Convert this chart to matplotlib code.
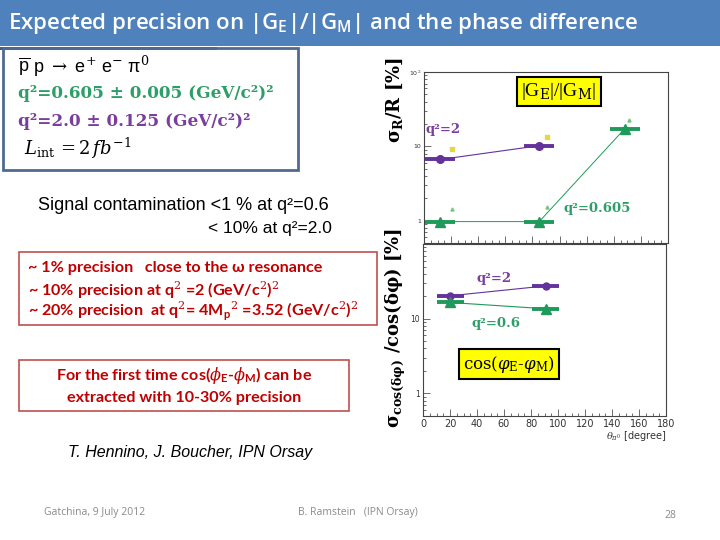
import matplotlib
matplotlib.use("Agg")
import matplotlib.pyplot as plt
from matplotlib.patches import Rectangle
from matplotlib.ticker import LogLocator, NullFormatter, FixedLocator, MultipleLocator
import numpy as np

# ---------------- data ----------------
theta_top = [12, 85, 148]
ratio_q2_2 = [6.65, 10.2]          # sigma_R/R [%], q2=2, at theta_top[:2]
ratio_q2_0605 = [0.97, 0.97, 17.2]  # sigma_R/R [%], q2=0.605
theta_top_err = [11, 11, 11]
ref_yellow_theta = [21, 91]
ref_yellow_val = [9.3, 13.4]
ref_green_theta = [21, 91, 151]
ref_green_val = [1.44, 1.53, 22.6]

theta_bot = [20, 91]
cos_q2_2 = [20.3, 27.5]            # sigma_cos/cos [%], q2=2
cos_q2_06 = [16.5, 13.6]           # q2=0.6
theta_bot_err = [10, 10]

x_ticks = [0, 20, 40, 60, 80, 100, 120, 140, 160, 180]

W, H = 720, 540
PURPLE = "#64329a"
GREEN = "#1e9a5a"
TXT_GREEN = "#2e9e68"
TXT_PURPLE = "#7a3e9d"
RED = "#c00000"

plt.rcParams["mathtext.fontset"] = "dejavuserif"

fig = plt.figure(figsize=(7.2, 5.4), dpi=100)
fig.patch.set_facecolor("white")


def P(x, y):
    return (x / W, 1 - y / H)


def rect(x0, y0, x1, y1, **kw):
    r = Rectangle(P(x0, y1), (x1 - x0) / W, (y1 - y0) / H, transform=fig.transFigure, **kw)
    fig.add_artist(r)


def text(x, y, s, **kw):
    fig.text(*P(x, y), s, **kw)


# ---------------- slide decorations ----------------
rect(0, 0, 720, 46, facecolor="#4f81bd", edgecolor="none")
rect(0, 47.5, 217, 50, facecolor="#3f5f86", edgecolor="none")
text(8, 23, r"Expected precision on |G$_{\mathregular{E}}$|/|G$_{\mathregular{M}}$| and the phase difference",
     color="white", fontsize=16, family="Open Sans", fontweight="semibold", va="center", ha="left")

# left info box
rect(3, 48, 298, 170, facecolor="none", edgecolor="#4f6a8f", linewidth=2)
text(18, 66, r"$\overline{\mathregular{p}}$ p $\rightarrow$ e$^{+}$ e$^{-}$ $\mathregular{\pi}^{0}$",
     fontsize=13, family="Liberation Sans", va="center", color="black")
text(18, 93, "q²=0.605 ± 0.005 (GeV/c²)²", fontsize=12.2, family="DejaVu Serif",
     fontweight="bold", color=TXT_GREEN, va="center")
text(18, 121, "q²=2.0 ± 0.125 (GeV/c²)²", fontsize=12.2, family="DejaVu Serif",
     fontweight="bold", color=TXT_PURPLE, va="center")
text(24, 148, r"$L_{\mathrm{int}}\,=2\,fb^{-1}$", fontsize=13, va="center", color="black")

# signal contamination
text(38, 206, "Signal contamination <1 % at q²=0.6", fontsize=13, family="Liberation Sans", va="center")
text(208, 228, "< 10% at q²=2.0", fontsize=12.5, family="Liberation Sans", va="center")

# red boxes
rect(19, 252, 377, 325, facecolor="none", edgecolor="#c0504d", linewidth=1.2)
rkw = dict(fontsize=11.6, family="Lato", fontweight="bold", color=RED, va="center")
text(28, 268, "~ 1% precision   close to the ω resonance", **rkw)
text(28, 290, r"~ 10% precision at q$^{2}$ =2 (GeV/c$^{2}$)$^{2}$", **rkw)
text(28, 311, r"~ 20% precision  at q$^{2}$= 4M$_{\mathregular{p}}$$^{2}$ =3.52 (GeV/c$^{2}$)$^{2}$", **rkw)

rect(19, 360, 349, 411, facecolor="none", edgecolor="#c0504d", linewidth=1.2)
text(184, 376, r"For the first time cos($\phi_{\mathregular{E}}$-$\phi_{\mathregular{M}}$) can be",
     ha="center", **rkw)
text(184, 398, "extracted with 10-30% precision", ha="center", **rkw)

text(190, 453, "T. Hennino, J. Boucher, IPN Orsay", fontsize=11.5, family="Liberation Sans",
     style="italic", ha="center", va="center")
fkw = dict(fontsize=7.5, family="Open Sans", color="#8a8a8a", va="center")
text(44, 512, "Gatchina, 9 July 2012", **fkw)
text(298, 512, "B. Ramstein   (IPN Orsay)", **fkw)
text(664, 515, "28", **fkw)

# ---------------- axes ----------------
axT = fig.add_axes([424 / W, 1 - 243 / H, (668 - 424) / W, (243 - 72) / H])
axB = fig.add_axes([423 / W, 1 - 416 / H, (666 - 423) / W, (416 - 244) / H])

for ax in (axT, axB):
    ax.set_yscale("log")
    ax.set_ylim(0.5, 100)
    ax.set_xlim(0, 180)
    ax.xaxis.set_major_locator(FixedLocator(x_ticks))
    ax.xaxis.set_minor_locator(MultipleLocator(5))
    ax.yaxis.set_minor_locator(LogLocator(base=10, subs=np.arange(2, 10)))
    ax.yaxis.set_minor_formatter(NullFormatter())
    ax.tick_params(which="both", direction="in", top=False, right=False, colors="#555555",
                   labelcolor="#333333", width=0.6)
    ax.tick_params(which="major", length=5, labelsize=5.5, pad=2)
    ax.tick_params(which="minor", length=2.5)
    for s in ax.spines.values():
        s.set_linewidth(0.8)
        s.set_color("#444444")

axT.set_xticklabels([])
axT.set_yticks([1, 10, 100])
axT.set_yticklabels(["1", "10", r"10$^{2}$"], fontsize=4.5)
axB.set_yticks([1, 10])
axB.set_yticklabels(["1", "10"], fontsize=5.5)
axB.set_xticklabels([str(t) for t in x_ticks], fontsize=7)
axB.set_xlabel(r"$\theta_{\pi^0}$ [degree]", fontsize=7, loc="right", labelpad=0, color="#333333")

# ---------------- top plot ----------------
axT.plot(theta_top[:2], ratio_q2_2, color=PURPLE, lw=0.8)
axT.errorbar(theta_top[:2], ratio_q2_2, xerr=theta_top_err[:2], fmt="o", color=PURPLE,
             ms=5.5, elinewidth=2.8, capsize=0)
axT.plot(theta_top, ratio_q2_0605, color=GREEN, lw=0.7)
axT.errorbar(theta_top, ratio_q2_0605, xerr=theta_top_err, fmt="^", color=GREEN,
             ms=6.5, elinewidth=2.8, capsize=0)
axT.plot(ref_yellow_theta, ref_yellow_val, "s", color="#e6d44a", ms=2.2, ls="none")
axT.plot(ref_green_theta, ref_green_val, "^", color="#7cc47c", ms=2.2, ls="none")

axT.text(0.553, 0.886, r"|G$_{\mathrm{E}}$|/|G$_{\mathrm{M}}$|", transform=axT.transAxes,
         fontsize=14, family="Liberation Serif", ha="center", va="center",
         bbox=dict(boxstyle="square,pad=0.22", facecolor="#ffff00", edgecolor="black", lw=1.5))
axT.text(0.005, 0.665, "q²=2", transform=axT.transAxes, fontsize=9.5, family="DejaVu Serif",
         fontweight="bold", color=TXT_PURPLE, va="center")
axT.text(0.57, 0.2, "q²=0.605", transform=axT.transAxes, fontsize=9.5, family="DejaVu Serif",
         fontweight="bold", color=TXT_GREEN, va="center")

# ---------------- bottom plot ----------------
axB.plot(theta_bot, cos_q2_2, color=PURPLE, lw=0.8)
axB.errorbar(theta_bot, cos_q2_2, xerr=theta_bot_err, fmt="o", color=PURPLE,
             ms=5, elinewidth=2.8, capsize=0)
axB.plot(theta_bot, cos_q2_06, color=GREEN, lw=0.8)
axB.errorbar(theta_bot, cos_q2_06, xerr=theta_bot_err, fmt="^", color=GREEN,
             ms=6.5, elinewidth=2.8, capsize=0)

axB.text(0.22, 0.8, "q²=2", transform=axB.transAxes, fontsize=9.5, family="DejaVu Serif",
         fontweight="bold", color=TXT_PURPLE, va="center")
axB.text(0.2, 0.535, "q²=0.6", transform=axB.transAxes, fontsize=9.5, family="DejaVu Serif",
         fontweight="bold", color=TXT_GREEN, va="center")
axB.text(0.352, 0.302, r"cos($\varphi_{\mathrm{E}}$-$\varphi_{\mathrm{M}}$)", transform=axB.transAxes,
         fontsize=12, family="DejaVu Serif", ha="center", va="center",
         bbox=dict(boxstyle="square,pad=0.25", facecolor="#ffff00", edgecolor="black", lw=1.5))

# y labels
text(395, 100, r"$\mathbf{\sigma_R/R}$ [%]", rotation=90, fontsize=13, family="DejaVu Serif",
     fontweight="bold", ha="center", va="center")
text(395, 328, r"$\mathbf{\sigma_{cos(\delta\varphi)}}$ /cos($\mathbf{\delta\varphi}$) [%]", rotation=90,
     fontsize=13, family="DejaVu Serif", fontweight="bold", ha="center", va="center")

fig.savefig("out.png", dpi=100)
